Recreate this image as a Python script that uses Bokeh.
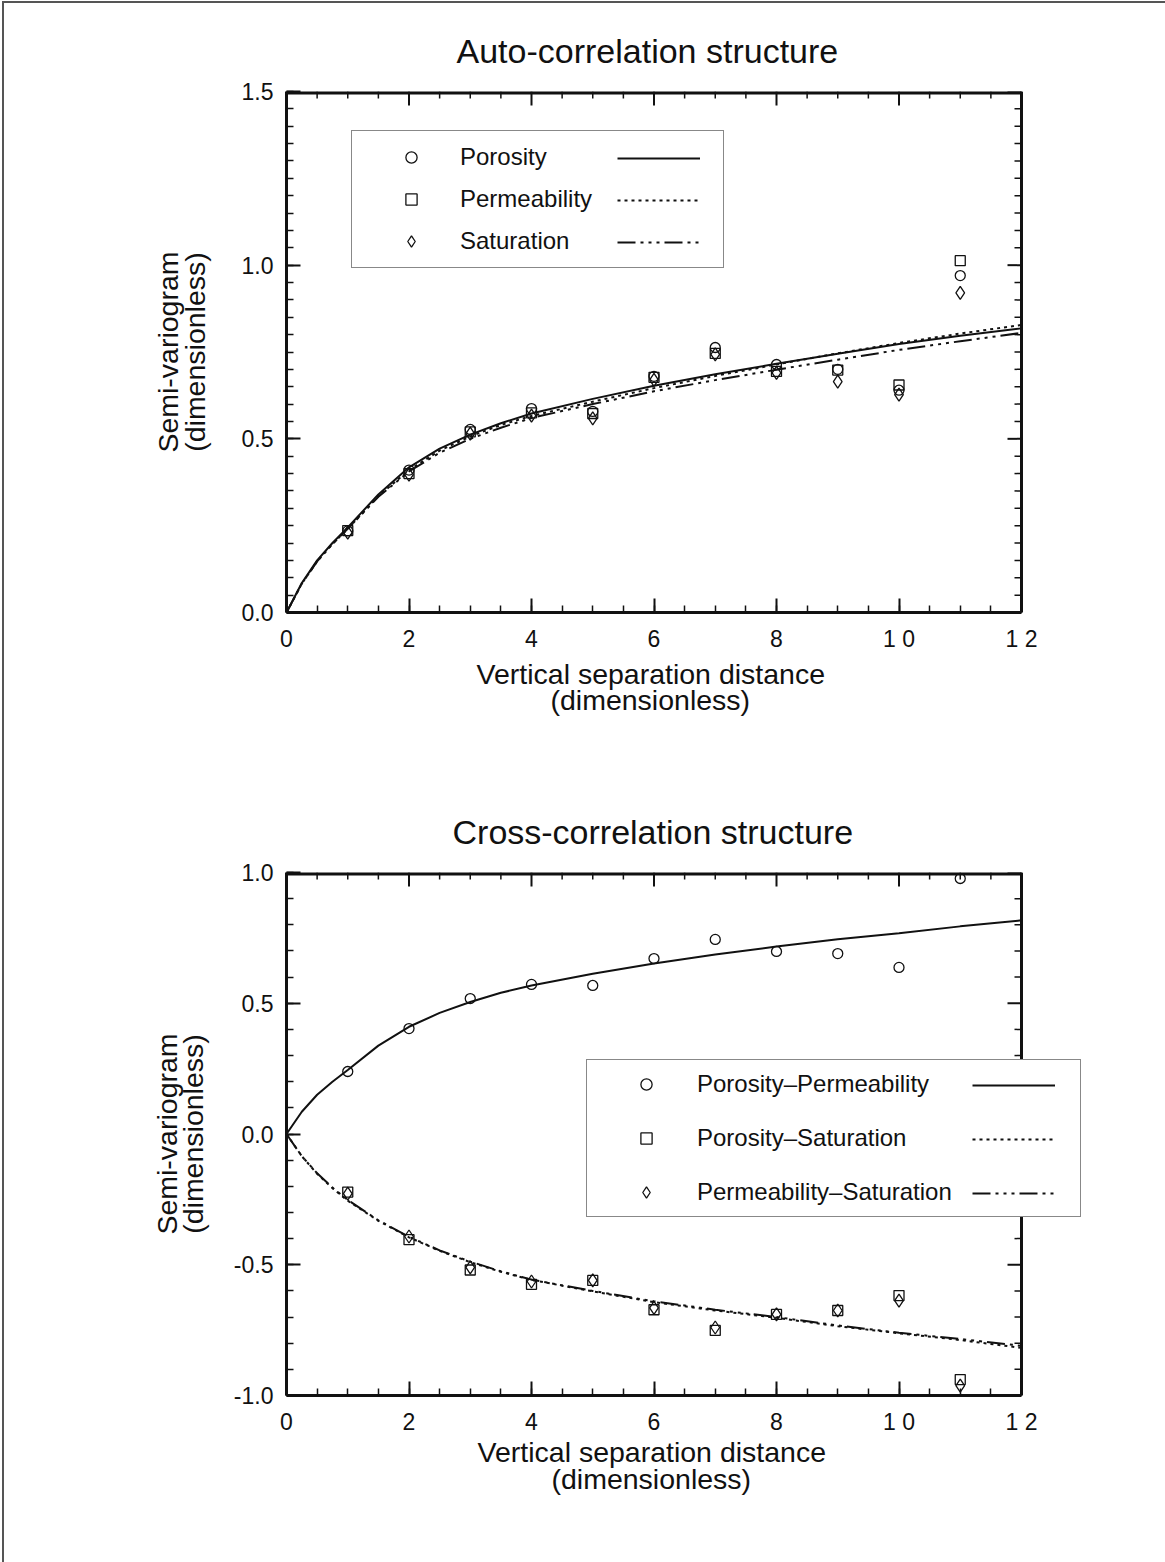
import numpy as np
from bokeh.plotting import figure
from bokeh.models import SingleIntervalTicker, Legend, LegendItem, Title
from bokeh.layouts import column
from bokeh.embed import file_html
from bokeh.resources import INLINE

FONT = "Liberation Sans"
INK = "#111111"

# ---- data -------------------------------------------------------------
lags = [1, 2, 3, 4, 5, 6, 7, 8, 9, 10, 11]

# experimental auto-variograms
porosity_pts = [0.235, 0.41, 0.527, 0.587, 0.579, 0.68, 0.763, 0.714, 0.70, 0.64, 0.97]
permeability_pts = [0.236, 0.40, 0.52, 0.575, 0.573, 0.677, 0.746, 0.694, 0.698, 0.655, 1.013]
saturation_pts = [0.23, 0.397, 0.515, 0.567, 0.559, 0.67, 0.743, 0.69, 0.665, 0.627, 0.92]

# fitted auto-variogram models
model_x = [0, 0.25, 0.5, 0.75, 1, 1.5, 2, 2.5, 3, 3.5, 4, 5, 6, 7, 8, 9, 10, 11, 12]
porosity_fit = [0, 0.085, 0.15, 0.20, 0.245, 0.34, 0.418, 0.472, 0.512, 0.545, 0.573,
                0.615, 0.653, 0.686, 0.716, 0.745, 0.773, 0.797, 0.818]
permeability_fit = [0, 0.083, 0.147, 0.197, 0.241, 0.335, 0.41, 0.466, 0.507, 0.54, 0.566,
                    0.607, 0.646, 0.681, 0.714, 0.746, 0.776, 0.803, 0.828]
saturation_fit = [0, 0.083, 0.147, 0.197, 0.241, 0.333, 0.406, 0.46, 0.50, 0.532, 0.56,
                  0.60, 0.637, 0.669, 0.699, 0.728, 0.756, 0.781, 0.805]

# experimental cross-variograms
por_perm_pts = [0.239, 0.403, 0.518, 0.572, 0.568, 0.671, 0.744, 0.698, 0.69, 0.637, 0.977]
por_sat_pts = [-0.222, -0.404, -0.52, -0.575, -0.56, -0.672, -0.751, -0.69, -0.675, -0.618, -0.939]
perm_sat_pts = [-0.228, -0.392, -0.51, -0.564, -0.56, -0.665, -0.74, -0.69, -0.675, -0.637, -0.962]

# fitted cross-variogram models
por_perm_fit = [0, 0.085, 0.15, 0.20, 0.245, 0.338, 0.41, 0.463, 0.505, 0.54, 0.568,
                0.613, 0.652, 0.686, 0.717, 0.745, 0.768, 0.794, 0.817]
por_sat_fit = [0, -0.085, -0.152, -0.207, -0.255, -0.332, -0.395, -0.447, -0.49, -0.527,
               -0.558, -0.602, -0.643, -0.675, -0.703, -0.735, -0.762, -0.788, -0.818]
perm_sat_fit = [0, -0.085, -0.15, -0.205, -0.252, -0.33, -0.393, -0.445, -0.488, -0.525,
                -0.557, -0.60, -0.64, -0.672, -0.70, -0.732, -0.76, -0.784, -0.81]

x_tick_labels = {0: "0", 2: "2", 4: "4", 6: "6", 8: "8", 10: "1 0", 12: "1 2"}
auto_y_labels = {0: "0.0", 0.5: "0.5", 1: "1.0", 1.5: "1.5"}
cross_y_labels = {-1: "-1.0", -0.5: "-0.5", 0: "0.0", 0.5: "0.5", 1: "1.0"}

X_MAX = 12
X_STEP, X_MINOR = 2, 4
PX_PER_X = 735 / X_MAX   # horizontal scale shared by both panels
FRAME_W = 798            # plotting area runs past x = 12 so the keys can overhang the border
CAPTION_SIZE = "28.5px"

SOLID = "solid"
DOTTED = "3 4"
DASH_DOT = "18 5 3 5 3 5 3 5"


def style_axis(ax):
    ax.axis_line_width = 3
    ax.axis_line_color = INK
    ax.major_tick_in = 14
    ax.major_tick_out = 0
    ax.minor_tick_in = 7
    ax.minor_tick_out = 0
    ax.major_tick_line_width = 2
    ax.minor_tick_line_width = 1.5
    ax.major_tick_line_color = INK
    ax.minor_tick_line_color = INK
    ax.major_label_text_font = FONT
    ax.major_label_text_color = INK
    ax.major_label_text_font_size = "23px"
    ax.major_label_standoff = 13
    ax.axis_label_text_font = FONT
    ax.axis_label_text_font_size = CAPTION_SIZE
    ax.axis_label_text_font_style = "normal"
    ax.axis_label_text_color = INK
    ax.axis_label_text_line_height = 0.82


def frame_ticks(p, y0, y1, y_step, y_minor):
    """Border along the top and along x = 12, with inward ticks."""
    p.segment(x0=[0], y0=[y1], x1=[X_MAX], y1=[y1], line_color=INK, line_width=6)
    p.segment(x0=[X_MAX], y0=[y0], x1=[X_MAX], y1=[y1], line_color=INK, line_width=3)

    xs = np.arange(0, X_MAX + 1e-9, X_STEP / X_MINOR)
    x_major = np.isclose(np.mod(xs, X_STEP), 0)
    for mask, length, width in ((x_major, 14, 2), (~x_major, 7, 1.5)):
        p.ray(x=xs[mask], y=np.full(mask.sum(), y1), length=length, length_units="screen",
              angle=-np.pi / 2, line_color=INK, line_width=width)

    ys = np.arange(y0, y1 + 1e-9, y_step / y_minor)
    k = (ys - y0) / y_step
    y_major = np.isclose(k, np.round(k))
    for mask, length, width in ((y_major, 14, 2), (~y_major, 7, 1.5)):
        p.ray(x=np.full(mask.sum(), X_MAX), y=ys[mask], length=length, length_units="screen",
              angle=np.pi, line_color=INK, line_width=width)


def text_title(text, size, offset, valign, standoff):
    t = Title(text=text, align="left", offset=offset, vertical_align=valign,
              text_font=FONT, text_font_size=size, text_font_style="normal",
              text_color=INK)
    try:
        t.standoff = standoff
    except Exception:
        t.standoff = 0
    return t


def make_panel(title, y_range, y_step, y_minor, y_labels, frame_h,
               left, top, bottom, ylabel_standoff, text_offsets, caption_gaps,
               series, legend_geom):
    x_end = FRAME_W / PX_PER_X
    p = figure(frame_width=FRAME_W, frame_height=frame_h,
               x_range=(0, x_end), y_range=y_range,
               min_border_left=left, min_border_right=1161 - left - FRAME_W,
               min_border_top=top, min_border_bottom=bottom,
               output_backend="svg", toolbar_location=None,
               background_fill_color="white", border_fill_color="white")
    p.outline_line_color = None
    p.xgrid.visible = False
    p.ygrid.visible = False

    xa = p.xaxis[0]
    ya = p.yaxis[0]
    xa.ticker = SingleIntervalTicker(interval=X_STEP, num_minor_ticks=X_MINOR)
    ya.ticker = SingleIntervalTicker(interval=y_step, num_minor_ticks=y_minor)
    xa.bounds = (0, X_MAX)
    xa.major_label_overrides = x_tick_labels
    ya.major_label_overrides = y_labels
    ya.axis_label = "Semi-variogram\n(dimensionless)"
    style_axis(xa)
    style_axis(ya)
    ya.axis_label_standoff = ylabel_standoff

    frame_ticks(p, y_range[0], y_range[1], y_step, y_minor)

    # heading and the two-line x caption, centred over 0..12
    t_off, l1_off, l2_off = text_offsets
    gap1, gap2 = caption_gaps
    head = p.title
    head.text = title
    head.align = "left"
    head.offset = t_off
    head.standoff = 44
    head.text_font = FONT
    head.text_font_size = "34px"
    head.text_font_style = "normal"
    head.text_color = INK
    p.add_layout(text_title("Vertical separation distance", CAPTION_SIZE, l1_off, "bottom", gap1), "below")
    p.add_layout(text_title("(dimensionless)", CAPTION_SIZE, l2_off, "top", gap2), "below")

    marker_items, line_items = [], []
    for name, pts, fit, marker, msize, dash in series:
        ln = p.line(model_x, fit, line_color=INK, line_width=2, line_dash=dash)
        sc = p.scatter(lags, pts, marker=marker, size=msize, fill_color=None,
                       line_color=INK, line_width=1.3)
        marker_items.append(LegendItem(label=name, renderers=[sc]))
        line_items.append(LegendItem(label=" ", renderers=[ln]))

    (vx, vy, pad, gw_marker, label_w, gh, spacing, line_x) = legend_geom
    common = dict(orientation="vertical", glyph_height=gh, label_height=gh,
                  spacing=spacing, margin=0,
                  label_text_font=FONT, label_text_font_size="24px",
                  label_text_color=INK)
    leg_a = Legend(items=marker_items, location=(vx, vy), glyph_width=gw_marker,
                   label_standoff=2, label_width=label_w, padding=pad,
                   border_line_color=INK, border_line_width=1.5,
                   background_fill_color="white", background_fill_alpha=1.0,
                   **common)
    leg_b = Legend(items=line_items, location=(line_x, vy + pad), glyph_width=83,
                   label_standoff=0, label_width=0, padding=0,
                   border_line_color=None, background_fill_alpha=0.0,
                   **common)
    p.add_layout(leg_a, "center")
    p.add_layout(leg_b, "center")
    return p


auto = make_panel(
    "Auto-correlation structure", (0, 1.5), 0.5, 10, auto_y_labels, 521,
    280, 88, 169, 28, (170, 190, 264), (3, -15),
    [("Porosity", porosity_pts, porosity_fit, "circle", 10, SOLID),
     ("Permeability", permeability_pts, permeability_fit, "square", 10, DOTTED),
     ("Saturation", saturation_pts, saturation_fit, "diamond", 13, DASH_DOT)],
    (65, 344, 12, 94, 251, 28, 14, 331),
)

cross = make_panel(
    "Cross-correlation structure", (-1.0, 1.0), 0.5, 5, cross_y_labels, 523,
    282, 91, 167, 22, (166, 191, 265), (-7, -3),
    [("Porosity\u2013Permeability", por_perm_pts, por_perm_fit, "circle", 10, SOLID),
     ("Porosity\u2013Saturation", por_sat_pts, por_sat_fit, "square", 10, DOTTED),
     ("Permeability\u2013Saturation", perm_sat_pts, perm_sat_fit, "diamond", 13, DASH_DOT)],
    (300, 178, 10, 98, 373, 28, 26, 686),
)

page = column(auto, cross, styles={"border-left": "2px solid #555",
                                   "border-top": "2px solid #555",
                                   "margin-left": "2px", "margin-top": "1px"})

with open("out.html", "w") as f:
    f.write(file_html(page, INLINE))
